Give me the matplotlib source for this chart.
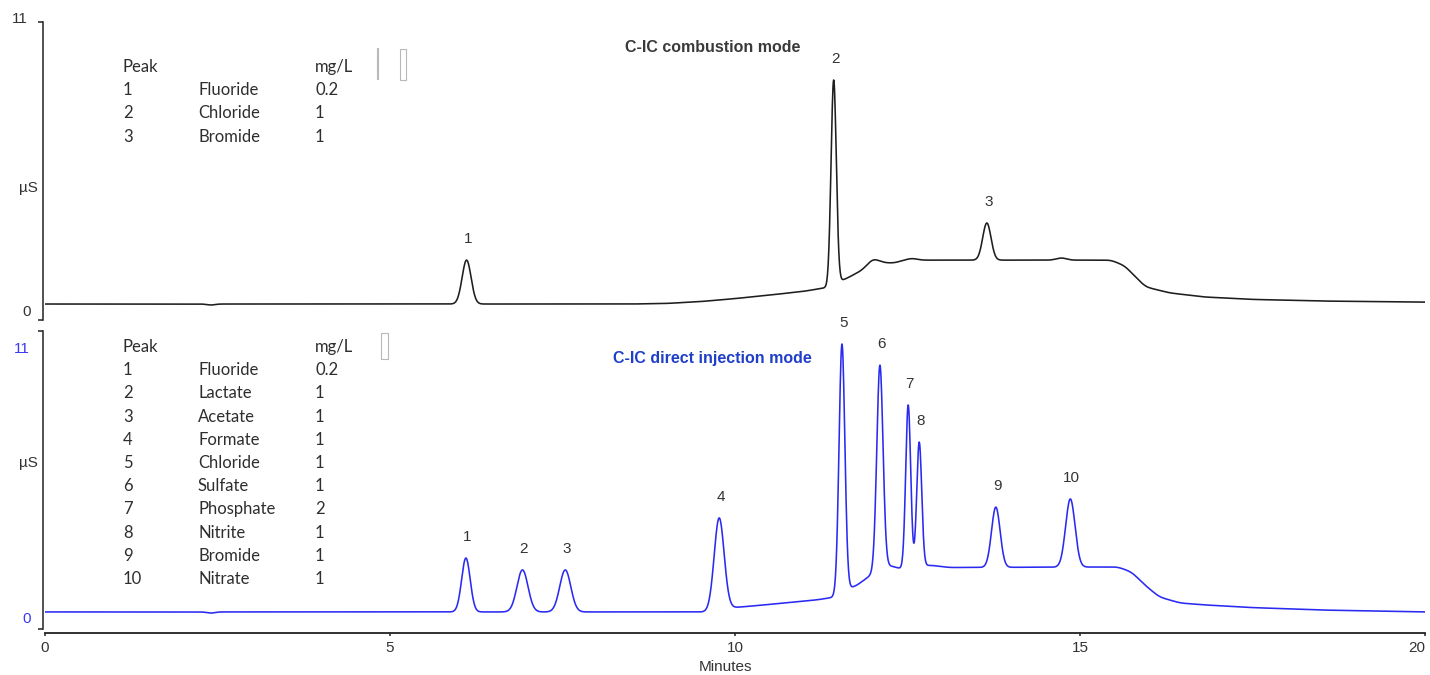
import matplotlib
matplotlib.use("Agg")
import matplotlib.pyplot as plt
import numpy as np
from matplotlib.patches import Rectangle

# --- data (minutes, µS) ---
# combustion mode (top, black)
top_base_t = [0, 2.33, 2.40, 2.48, 8.5, 9.0, 9.5, 10.0, 10.5, 11.0, 11.38, 11.50,
              11.60, 11.85, 12.0, 12.15, 12.30, 12.56, 12.70, 14.60, 14.73, 14.86,
              15.45, 15.65, 15.80, 15.95, 16.30, 16.80, 17.5, 18.5, 20.0]
top_base_y = [0.59, 0.59, 0.52, 0.59, 0.59, 0.61, 0.68, 0.79, 0.92, 1.06, 1.22, 1.42,
              1.51, 1.85, 2.29, 2.12, 2.10, 2.29, 2.21, 2.21, 2.32, 2.21,
              2.21, 2.00, 1.60, 1.22, 1.00, 0.85, 0.76, 0.70, 0.66]
top_peak_num = ["1", "2", "3"]
top_peak_t = [6.11, 11.43, 13.65]
top_peak_apex = [2.21, 8.86, 3.58]
top_peak_sigma = [0.065, 0.038, 0.06]

# direct injection mode (bottom, blue)
bot_base_t = [0, 2.33, 2.40, 2.48, 9.70, 9.88, 10.3, 10.8, 11.2, 11.45, 11.62, 11.75,
              12.0, 12.22, 12.42, 12.82, 13.1, 15.55, 15.75, 15.95, 16.15,
              16.45, 16.80, 17.5, 18.5, 20.0]
bot_base_y = [0.63, 0.63, 0.55, 0.63, 0.63, 0.77, 0.86, 0.98, 1.08, 1.18, 1.48, 1.58,
              2.05, 2.36, 2.21, 2.36, 2.27, 2.29, 2.10, 1.60, 1.18,
              0.96, 0.89, 0.79, 0.70, 0.63]
bot_peak_num = ["1", "2", "3", "4", "5", "6", "7", "8", "9", "10"]
bot_peak_t = [6.10, 6.92, 7.54, 9.77, 11.55, 12.10, 12.51, 12.67, 13.78, 14.86]
bot_peak_apex = [2.62, 2.18, 2.18, 4.10, 10.52, 9.74, 8.27, 6.90, 4.50, 4.80]
bot_peak_sigma = [0.062, 0.08, 0.08, 0.072, 0.042, 0.045, 0.036, 0.036, 0.062, 0.068]

top_table = [("Peak", "", "mg/L"), ("1", "Fluoride", "0.2"), ("2", "Chloride", "1"),
             ("3", "Bromide", "1")]
bot_table = [("Peak", "", "mg/L"), ("1", "Fluoride", "0.2"), ("2", "Lactate", "1"),
             ("3", "Acetate", "1"), ("4", "Formate", "1"), ("5", "Chloride", "1"),
             ("6", "Sulfate", "1"), ("7", "Phosphate", "2"), ("8", "Nitrite", "1"),
             ("9", "Bromide", "1"), ("10", "Nitrate", "1")]

BLUE = "#2a2af2"
INK = "#333333"
t = np.linspace(0, 20, 4001)


def trace(base_t, base_y, pk_t, pk_apex, pk_sig):
    base = np.interp(t, base_t, base_y)
    k = np.exp(-0.5 * (np.arange(-40, 41) / 10.0) ** 2)
    k /= k.sum()
    base = np.convolve(np.pad(base, 40, mode="edge"), k, mode="valid")
    y = base.copy()
    for c, a, s in zip(pk_t, pk_apex, pk_sig):
        h = a - np.interp(c, t, base)
        y += h * np.exp(-0.5 * ((t - c) / s) ** 2)
    return y


W, H = 1430, 675
fig = plt.figure(figsize=(14.3, 6.75), dpi=100)


def fx(px):
    return px / W


def fy(py):
    return 1 - py / H


ax_top = fig.add_axes([fx(45), fy(320), fx(1425) - fx(45), fy(22) - fy(320)])
ax_bot = fig.add_axes([fx(45), fy(629), fx(1425) - fx(45), fy(331) - fy(629)])

for ax in (ax_top, ax_bot):
    ax.set_xlim(0, 20)
    ax.set_ylim(0, 11)
    for s in ("top", "right"):
        ax.spines[s].set_visible(False)
    ax.spines["left"].set_position(("outward", 1.5))
    ax.spines["left"].set_linewidth(1.1)
    ax.spines["left"].set_color("#222222")
    ax.set_yticks([0, 11])
    ax.tick_params(axis="y", length=3.6, width=1.1, color="#222222", labelleft=False)

ax_top.spines["bottom"].set_visible(False)
ax_top.set_xticks([])

ax_bot.spines["bottom"].set_position(("outward", 2.9))
ax_bot.spines["bottom"].set_linewidth(1.3)
ax_bot.spines["bottom"].set_color("#222222")
ax_bot.set_xticks([0, 5, 10, 15, 20])
ax_bot.tick_params(axis="x", length=2.5, width=1.1, color="#222222", pad=3,
                   labelsize=11, labelcolor=INK)
for lab in ax_bot.get_xticklabels():
    lab.set_fontfamily("Liberation Sans")
ax_bot.get_xticklabels()[-1].set_horizontalalignment("right")

y_top = trace(top_base_t, top_base_y, top_peak_t, top_peak_apex, top_peak_sigma)
y_bot = trace(bot_base_t, bot_base_y, bot_peak_t, bot_peak_apex, bot_peak_sigma)
ax_top.plot(t, y_top, color="#1e1e1e", lw=1.15)
ax_bot.plot(t, y_bot, color=BLUE, lw=1.15)

for ax, nums, pt, pa in ((ax_top, top_peak_num, top_peak_t, top_peak_apex),
                         (ax_bot, bot_peak_num, bot_peak_t, bot_peak_apex)):
    for n, c, a in zip(nums, pt, pa):
        ax.annotate(n, (c, a), xytext=(1, 15), textcoords="offset points",
                    ha="center", va="center", fontsize=11, color=INK,
                    family="Liberation Sans", annotation_clip=False)

# axis value labels and units
num_font = dict(family="Liberation Sans", fontsize=11, ha="right", va="center")
fig.text(fx(28), fy(19), "11", color=INK, **num_font)
fig.text(fx(31), fy(312), "0", color=INK, **num_font)
fig.text(fx(30), fy(349), "11", color="#3a3af0", **num_font)
fig.text(fx(31), fy(619), "0", color="#3a3af0", **num_font)
fig.text(fx(28), fy(188), "µS", color=INK, family="Liberation Sans", fontsize=11,
         ha="center", va="center")
fig.text(fx(28), fy(463), "µS", color=INK, family="Liberation Sans", fontsize=11,
         ha="center", va="center")
fig.text(fx(725), fy(667), "Minutes", color=INK, family="Liberation Sans",
         fontsize=11, ha="center", va="center")

# mode titles
fig.text(fx(713), fy(48), "C-IC combustion mode", color="#3a3a3a", fontsize=11.5,
         fontweight="bold", family="Liberation Sans", ha="center", va="center")
fig.text(fx(712), fy(358), "C-IC direct injection mode", color="#1f3fc8", fontsize=11.5,
         fontweight="bold", family="Liberation Sans", ha="center", va="center")

# peak tables
for rows, y0 in ((top_table, 67), (bot_table, 347)):
    for i, (p, name, conc) in enumerate(rows):
        yy = fy(y0 + i * 23.2)
        for xx, s in ((123, p), (198, name), (315, conc)):
            fig.text(fx(xx), yy, s, color="#2e2e2e", family="Lato", fontsize=12,
                     ha="left", va="center")

# small empty boxes next to the tables
for x0, y0, w, h in ((377, 48, 1.5, 31), (400, 49, 6, 31), (381, 333, 7, 26)):
    fig.patches.append(Rectangle((fx(x0), fy(y0 + h)), w / W, h / H, transform=fig.transFigure,
                                 facecolor="none", edgecolor="#b8b8b8", lw=0.8))

fig.savefig("out.png", dpi=100)
